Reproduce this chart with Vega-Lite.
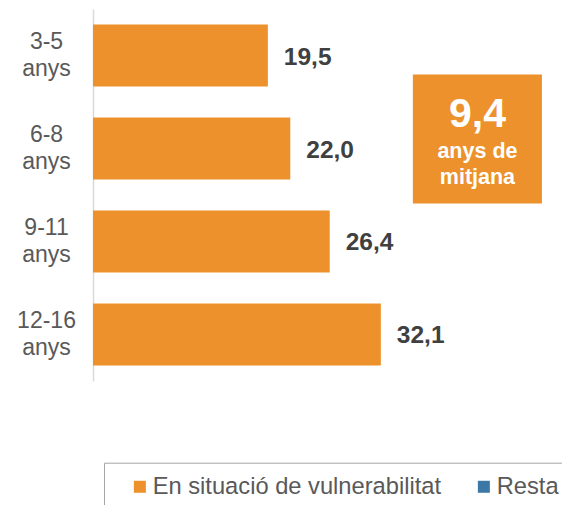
{
  "$schema": "https://vega.github.io/schema/vega-lite/v6.json",
  "autosize": "none",
  "width": 469,
  "height": 372,
  "padding": {"left": 93, "top": 9, "right": 0, "bottom": 124},
  "config": {
    "view": {"stroke": null},
    "font": "Liberation Sans",
    "locale": {"number": {"decimal": ",", "thousands": ".", "grouping": [3], "currency": ["", " €"]}}
  },
  "datasets": {
    "bars": [
      {"edat": "3-5 anys", "valor": 19.5, "grup": "En situació de vulnerabilitat"},
      {"edat": "6-8 anys", "valor": 22.0, "grup": "En situació de vulnerabilitat"},
      {"edat": "9-11 anys", "valor": 26.4, "grup": "En situació de vulnerabilitat"},
      {"edat": "12-16 anys", "valor": 32.1, "grup": "En situació de vulnerabilitat"}
    ],
    "mitjana": [{"mitjana": 9.4, "edat": "6-8 anys"}]
  },
  "encoding": {
    "y": {
      "field": "edat", "type": "nominal",
      "scale": {"domain": ["3-5 anys", "6-8 anys", "9-11 anys", "12-16 anys"], "paddingInner": 0.333, "paddingOuter": 0.1667},
      "axis": {
        "title": null, "domain": true, "domainColor": "#d9d9d9", "domainWidth": 1.5,
        "ticks": false, "tickSize": 0, "grid": false,
        "labelExpr": "split(datum.label, ' ')",
        "labelFontSize": 23, "labelColor": "#595959", "labelFont": "Liberation Sans",
        "labelLineHeight": 27, "labelAlign": "center", "labelPadding": 47, "labelBaseline": "middle",
        "labelOffset": -13.5
      }
    }
  },
  "layer": [
    {
      "data": {"name": "bars"},
      "mark": {"type": "bar", "color": "#EC912B"},
      "encoding": {
        "x": {"field": "valor", "type": "quantitative", "scale": {"domain": [0, 52.3], "nice": false, "zero": true}, "axis": null},
        "color": {
          "field": "grup", "type": "nominal",
          "scale": {"domain": ["En situació de vulnerabilitat", "Resta"], "range": ["#EC912B", "#3B78A5"]},
          "legend": {
            "title": null, "orient": "none", "legendX": 11, "legendY": 453.7, "direction": "horizontal",
            "strokeColor": "#a6a6a6", "padding": 12,
            "symbolType": "square", "symbolSize": 144, "symbolOffset": 12, "symbolStrokeWidth": 0,
            "labelOffset": 1, "labelFontSize": 23.7, "labelFont": "Liberation Sans", "labelColor": "#595959",
            "columnPadding": 18, "labelLimit": 1000
          }
        }
      }
    },
    {
      "data": {"name": "bars"},
      "mark": {"type": "text", "align": "left", "baseline": "alphabetic", "dx": 16, "dy": 9, "fontSize": 24.5, "fontWeight": "bold", "color": "#404040", "font": "Liberation Sans"},
      "encoding": {
        "x": {"field": "valor", "type": "quantitative"},
        "text": {"field": "valor", "type": "quantitative", "format": ".1f"}
      }
    },
    {
      "data": {"name": "mitjana"},
      "mark": {"type": "rect", "color": "#EC912B", "height": 129, "yOffset": -9.5},
      "encoding": {
        "x": {"datum": 35.67, "type": "quantitative"},
        "x2": {"datum": 50.06}
      }
    },
    {
      "data": {"name": "mitjana"},
      "mark": {"type": "text", "align": "center", "baseline": "alphabetic", "yOffset": -21.5, "fontSize": 41, "fontWeight": "bold", "color": "white", "font": "Liberation Sans"},
      "encoding": {
        "x": {"datum": 42.87, "type": "quantitative"},
        "text": {"field": "mitjana", "type": "quantitative", "format": ".1f"}
      }
    },
    {
      "data": {"name": "mitjana"},
      "mark": {"type": "text", "align": "center", "baseline": "alphabetic", "yOffset": 9.5, "fontSize": 21.5, "fontWeight": "bold", "color": "white", "font": "Liberation Sans", "text": "anys de"},
      "encoding": {
        "x": {"datum": 42.87, "type": "quantitative"}
      }
    },
    {
      "data": {"name": "mitjana"},
      "mark": {"type": "text", "align": "center", "baseline": "alphabetic", "yOffset": 35, "fontSize": 21.5, "fontWeight": "bold", "color": "white", "font": "Liberation Sans", "text": "mitjana"},
      "encoding": {
        "x": {"datum": 42.87, "type": "quantitative"}
      }
    }
  ]
}
